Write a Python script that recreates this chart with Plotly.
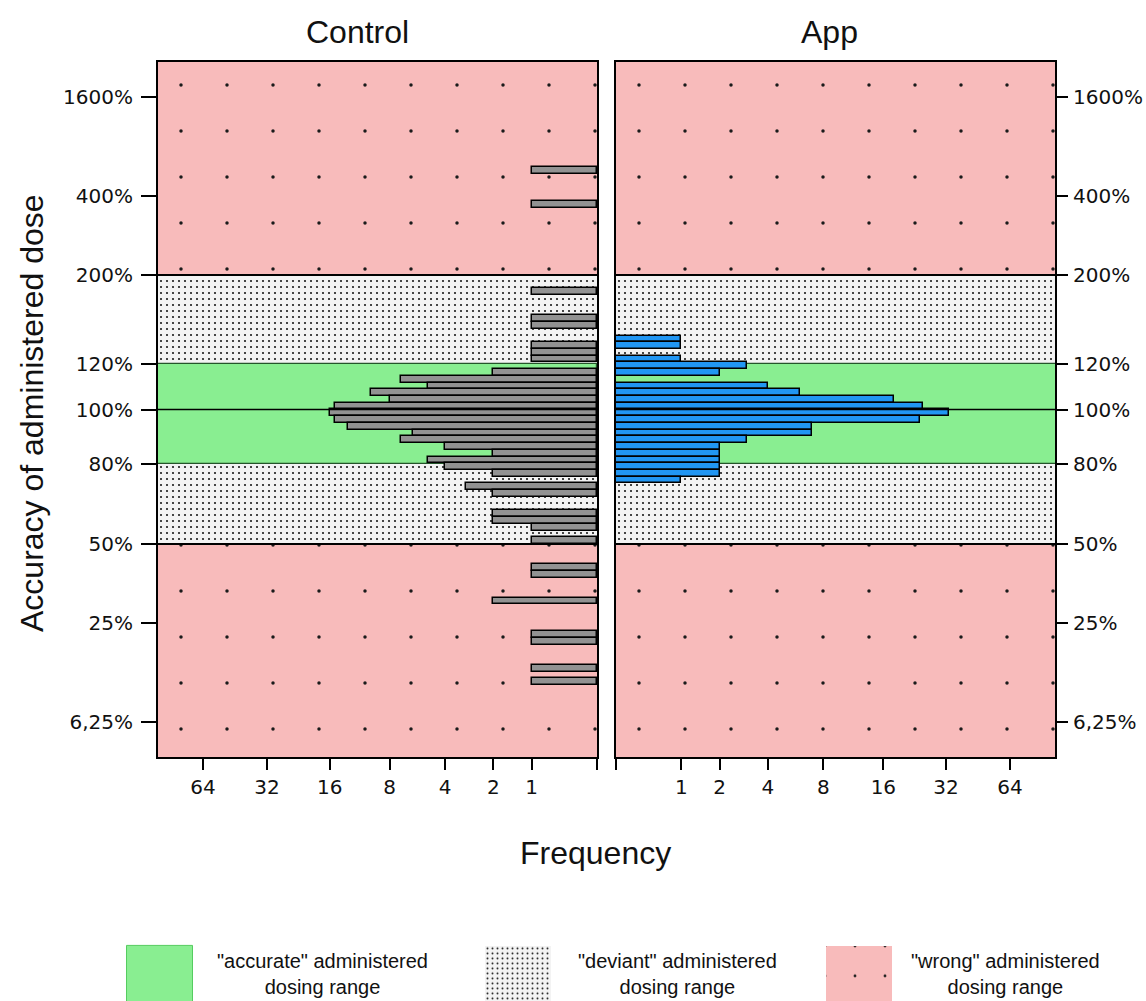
import math
import plotly.graph_objects as go

# ---------------- data ----------------
# bin centres of administered dose accuracy (% of intended dose) and frequencies
control_dose_pct = [536.05, 367.53, 178.26, 151.22, 145.62, 131.03, 126.80, 122.85,
                    115.67, 112.41, 109.35, 106.47, 103.77, 101.22,
                    98.80, 96.37, 93.92, 91.45, 88.96, 86.45, 83.93, 81.40, 78.86, 76.32,
                    71.22, 68.67, 61.08, 58.58, 56.10, 51.20,
                    41.81, 39.57, 31.10, 21.87, 20.22, 14.38, 11.91]
control_counts = [1, 1, 1, 1, 1, 1, 1, 1,
                  2, 7, 5, 10, 8, 15,
                  16, 15, 13, 6, 7, 4, 2, 5, 4, 2,
                  3, 2, 2, 2, 1, 1,
                  1, 1, 2, 1, 1, 1, 1]

app_dose_pct = [135.56, 131.03, 122.85, 119.14, 115.67, 109.35, 106.47, 103.77, 101.22,
                98.80, 96.37, 93.92, 91.45, 88.96, 86.45, 83.93, 81.40, 78.86, 76.32, 73.77]
app_counts = [1, 1, 1, 3, 2, 4, 6, 18, 25,
              33, 24, 7, 7, 3, 2, 2, 2, 2, 2, 1]

y_tick_pct = [1600, 400, 200, 120, 100, 80, 50, 25, 6.25]
y_tick_text = ["1600%", "400%", "200%", "120%", "100%", "80%", "50%", "25%", "6,25%"]
freq_ticks = [0, 1, 2, 4, 8, 16, 32, 64]
freq_tick_text = ["", "1", "2", "4", "8", "16", "32", "64"]

accurate_range = [80, 120]
deviant_ranges = [[50, 80], [120, 200]]
wrong_ranges = [[1, 50], [200, 10000]]
ref_lines_pct = [50, 100, 200]

panel_titles = ["Control", "App"]
legend_labels = ['"accurate" administered<br>dosing range',
                 '"deviant" administered<br>dosing range',
                 '"wrong" administered<br>dosing range']

# ---------------- styling ----------------
W, H = 1146, 1001
BIN_T = 0.05           # bin height on the transformed dose axis
FREQ_MAX = 104.8       # axis end (count + 1)
Y_LIM = 2.584
GREEN = "#89EE91"
PINK = "#F8BBBB"
STIP_BG = "#F3F3F3"
GRAY_BAR = "#929292"
BLUE_BAR = "#2196F3"
XTICK_FONT = dict(family="DejaVu Sans", size=20, color="#111111")
YTICK_FONT = dict(family="DejaVu Sans", size=20, color="#111111")
TITLE_FONT = dict(family="Liberation Sans", size=32, color="#111111")
LEG_FONT = dict(family="Liberation Sans", size=20, color="#111111")


def tr(p):
    """dose axis scale: signed log2(1 + |log2(ratio)|)"""
    L = math.log2(p / 100.0)
    return math.copysign(math.log2(1 + abs(L)), L)


stipple = dict(shape=".", size=6, solidity=0.1, fgcolor="#1a1a1a", bgcolor=STIP_BG, fillmode="replace")
sparse = dict(shape=".", size=46, solidity=0.0045, fgcolor="#1a1a1a", bgcolor=PINK, fillmode="replace")

fig = go.Figure()

for xa, ya in [("x", "y"), ("x2", "y2")]:
    # background regions
    for lo, hi in wrong_ranges:
        fig.add_trace(go.Bar(orientation="h", y=[(tr(lo) + tr(hi)) / 2], x=[1000], base=1,
                             width=[tr(hi) - tr(lo)], xaxis=xa, yaxis=ya, showlegend=False,
                             marker=dict(color=PINK, pattern=sparse, line=dict(width=0)),
                             hoverinfo="skip"))
    for lo, hi in deviant_ranges:
        fig.add_trace(go.Bar(orientation="h", y=[(tr(lo) + tr(hi)) / 2], x=[1000], base=1,
                             width=[tr(hi) - tr(lo)], xaxis=xa, yaxis=ya, showlegend=False,
                             marker=dict(color=STIP_BG, pattern=stipple, line=dict(width=0)),
                             hoverinfo="skip"))
    lo, hi = accurate_range
    fig.add_trace(go.Bar(orientation="h", y=[(tr(lo) + tr(hi)) / 2], x=[1000], base=1,
                         width=[tr(hi) - tr(lo)], xaxis=xa, yaxis=ya, showlegend=False,
                         marker=dict(color=GREEN, line=dict(width=1.2, color="#24552A")),
                         hoverinfo="skip"))

# data bars
fig.add_trace(go.Bar(orientation="h", y=[tr(p) for p in control_dose_pct], x=control_counts,
                     base=1, width=BIN_T, xaxis="x", yaxis="y", showlegend=False,
                     marker=dict(color=GRAY_BAR, line=dict(color="black", width=1.5))))
fig.add_trace(go.Bar(orientation="h", y=[tr(p) for p in app_dose_pct], x=app_counts,
                     base=1, width=BIN_T, xaxis="x2", yaxis="y2", showlegend=False,
                     marker=dict(color=BLUE_BAR, line=dict(color="black", width=1.5))))

# legend swatches (pixel-coordinate helper axes)
sw_x = [160, 518, 859]
sw_colors = [GREEN, STIP_BG, PINK]
sw_pat = [None, dict(shape=".", size=5, solidity=0.12, fgcolor="#222222", bgcolor=STIP_BG, fillmode="replace"),
          dict(shape=".", size=30, solidity=0.007, fgcolor="#222222", bgcolor=PINK, fillmode="replace")]
sw_line = [dict(color="#55CC60", width=1), dict(width=0), dict(width=0)]
for i in range(3):
    m = dict(color=sw_colors[i], line=sw_line[i])
    if sw_pat[i]:
        m["pattern"] = sw_pat[i]
    fig.add_trace(go.Bar(x=[sw_x[i]], y=[80], base=946, width=66, xaxis="x3", yaxis="y3",
                         marker=m, showlegend=False, hoverinfo="skip"))

# reference lines
shapes = []
for p in ref_lines_pct:
    for xr, yr in [("x domain", "y"), ("x2 domain", "y2")]:
        shapes.append(dict(type="line", xref=xr, yref=yr, x0=0, x1=1, y0=tr(p), y1=tr(p),
                           line=dict(color="black", width=2 if p != 100 else 1.5), layer="above"))

x_tickvals = [f + 1 for f in freq_ticks]
common_x = dict(type="log", tickvals=x_tickvals, ticktext=freq_tick_text, ticks="outside",
                ticklen=11, tickwidth=2, tickcolor="black", showline=True, mirror=True,
                linecolor="black", linewidth=2, showgrid=False, zeroline=False,
                tickfont=XTICK_FONT, fixedrange=True)
common_y = dict(range=[-Y_LIM, Y_LIM], tickvals=[tr(p) for p in y_tick_pct], ticktext=y_tick_text,
                ticks="outside", tickwidth=2, tickcolor="black", showline=True,
                mirror=True, linecolor="black", linewidth=2, showgrid=False, zeroline=False,
                tickfont=YTICK_FONT, fixedrange=True)

y_dom = [1 - 757 / H, 1 - 62 / H]
fig.update_layout(
    width=W, height=H, margin=dict(l=0, r=0, t=0, b=0),
    paper_bgcolor="white", plot_bgcolor="white", barmode="overlay", bargap=0,
    xaxis=dict(common_x, domain=[158 / W, 597 / W], anchor="y",
               range=[math.log10(FREQ_MAX), 0]),
    yaxis=dict(common_y, domain=y_dom, anchor="x", side="left", ticklen=15, ticklabelstandoff=4),
    xaxis2=dict(common_x, domain=[616 / W, 1055 / W], anchor="y2",
                range=[0, math.log10(FREQ_MAX)]),
    yaxis2=dict(common_y, domain=y_dom, anchor="x2", side="right", ticklen=11, ticklabelstandoff=1),
    xaxis3=dict(domain=[0, 1], anchor="y3", range=[0, W], visible=False, fixedrange=True),
    yaxis3=dict(domain=[0, 0.1], anchor="x3", range=[H, H - 100.1], visible=False, fixedrange=True),
    shapes=shapes,
)

ann = [
    dict(text=panel_titles[0], x=357 / W, y=1 - 32 / H, font=TITLE_FONT),
    dict(text=panel_titles[1], x=829 / W, y=1 - 32 / H, font=TITLE_FONT),
    dict(text="Frequency", x=595 / W, y=1 - 853 / H, font=TITLE_FONT),
    dict(text="Accuracy of administered dose", x=32 / W, y=1 - 413 / H, font=TITLE_FONT, textangle=-90),
]
for i, cx in enumerate([322, 677, 1006]):
    ann.append(dict(text=legend_labels[i], x=cx / W, y=1 - 974 / H, font=LEG_FONT))
for a in ann:
    a.update(xref="paper", yref="paper", showarrow=False, xanchor="center", yanchor="middle")
fig.update_layout(annotations=ann)

fig.write_html("out.html")
